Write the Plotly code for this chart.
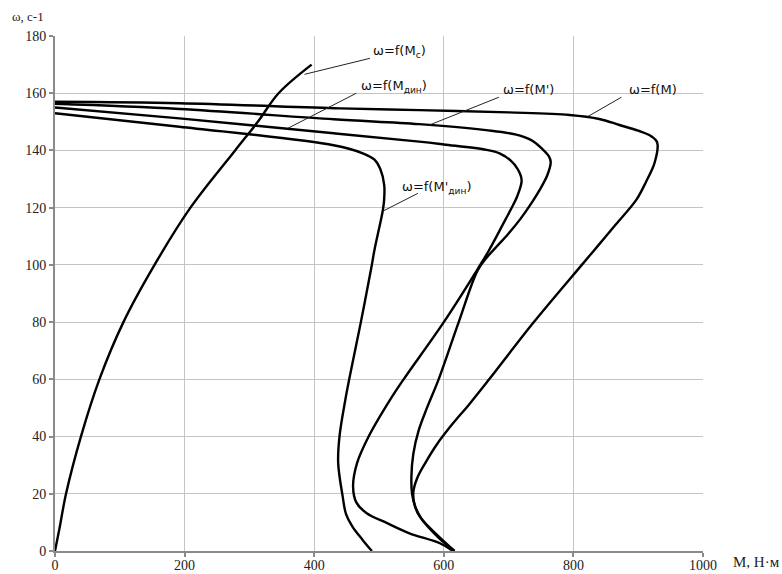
import plotly.graph_objects as go

# ---- data (M in N*m, omega in 1/s) ----
m_M = [0, 192, 440, 562, 700, 794, 840, 871, 900, 917, 928, 930, 925, 912, 897, 865, 839, 813, 739, 670, 640, 612, 590, 572, 559, 553, 555, 563, 593, 616.5]
w_M = [157, 156.5, 154.7, 154.1, 153.3, 152.4, 151, 148.9, 146.9, 145.4, 143.4, 141.9, 135.5, 129, 122.7, 114, 107, 100, 80, 60, 51.5, 44, 37.5, 31, 25.5, 20.5, 16, 12, 4.4, 0]

m_M1 = [0, 192, 430, 562, 665, 710, 735, 752, 762, 765, 760, 750, 735, 718, 700, 682, 666, 652, 623, 592, 574, 561, 553, 550, 551, 556, 565, 588, 616.5]
w_M1 = [156.3, 154.5, 150.9, 149.2, 147.1, 145.6, 143.6, 140.5, 138, 136, 131.5, 127, 121.5, 116, 111, 106.5, 102.5, 98, 80, 60, 50, 42, 34, 26, 20, 15.5, 11.5, 6, 0]

m_Md = [0, 192, 430, 562, 600, 666, 686, 703, 714, 719, 720, 713, 703, 692, 670, 653, 600, 538, 517, 484, 466, 460, 465, 481, 511, 547, 594, 614]
w_Md = [155, 151.2, 146, 143.1, 142.1, 140.2, 139, 136.5, 133.5, 131, 129, 123.8, 119.2, 114.5, 105.2, 98.8, 80, 60, 52.8, 40, 30.6, 22.5, 17, 13.2, 9.9, 6.2, 2.7, 0]

m_Md1 = [0, 192, 430, 475, 493, 502, 508, 508, 506, 493, 488, 472, 454, 448, 439, 437, 444, 449, 459, 475, 489]
w_Md1 = [153, 148.3, 141.8, 139, 136.8, 133.5, 128, 123, 119.2, 105.2, 98.8, 80, 60, 52.8, 40, 30.7, 19, 13, 8.5, 3.8, 0]

m_Mc = [0, 7, 17, 40, 68.5, 105.6, 153.6, 209, 278, 313, 345, 396]
w_Mc = [0, 8, 20, 40, 60, 80, 100, 120, 140, 150, 160, 170]

x_ticks = [0, 200, 400, 600, 800, 1000]
y_ticks = [0, 20, 40, 60, 80, 100, 120, 140, 160, 180]

# curve labels: text, leader start (on curve), leader end, text anchor
label_text = ["ω=f(M<sub>с</sub>)", "ω=f(M<sub>дин</sub>)", "ω=f(M')", "ω=f(M)", "ω=f(M'<sub>дин</sub>)"]
lead_m0 = [385, 359, 578, 822, 507]
lead_w0 = [166.6, 147.7, 148.9, 151.8, 118.9]
lead_m1 = [486, 465, 685, 874, 560]
lead_w1 = [172.2, 160, 158.6, 158.6, 125]
text_m = [488, 469, 689, 882, 532]
text_w = [174.5, 162.3, 161.4, 161.4, 127.1]

fig = go.Figure()
for mx, wy in [(m_Mc, w_Mc), (m_Md1, w_Md1), (m_Md, w_Md), (m_M1, w_M1), (m_M, w_M)]:
    fig.add_trace(go.Scatter(x=mx, y=wy, mode="lines",
                             line=dict(color="black", width=2.4, shape="spline", smoothing=1.0),
                             showlegend=False, hoverinfo="skip"))

for i in range(len(label_text)):
    fig.add_shape(type="line", xref="x", yref="y",
                  x0=lead_m0[i], y0=lead_w0[i], x1=lead_m1[i], y1=lead_w1[i],
                  line=dict(color="#222222", width=1))
    fig.add_annotation(x=text_m[i], y=text_w[i], xref="x", yref="y", text=label_text[i],
                       showarrow=False, xanchor="left", yanchor="middle",
                       font=dict(family="DejaVu Sans", size=13, color="#111111"))

fig.add_annotation(x=0, y=1, xref="paper", yref="paper", text="ω, с-1", showarrow=False,
                   xanchor="left", yanchor="middle", xshift=-45, yshift=20,
                   font=dict(family="Liberation Serif", size=13, color="#222222"))
fig.add_annotation(x=1, y=0, xref="paper", yref="paper", text="M, Н·м", showarrow=False,
                   xanchor="left", yanchor="middle", xshift=28, yshift=-11,
                   font=dict(family="Liberation Serif", size=15, color="#222222"))

axis_common = dict(showgrid=True, gridcolor="#c4c4c4", gridwidth=1, zeroline=False,
                   showline=True, linecolor="#8a8a8a", linewidth=2, automargin=False,
                   ticks="outside", ticklen=4, tickcolor="#8a8a8a", tickwidth=1.5,
                   tickfont=dict(family="Liberation Serif", size=14, color="#222222"))
fig.update_xaxes(range=[0, 1000], tickvals=x_ticks, ticklabelstandoff=-4, **axis_common)
fig.update_yaxes(range=[0, 180], tickvals=y_ticks, **axis_common)

fig.update_layout(width=782, height=574, margin=dict(l=55, r=79, t=36, b=23),
                  plot_bgcolor="white", paper_bgcolor="white")
fig.write_html("out.html", config={"displayModeBar": False},
               post_script="document.body.style.margin='0';document.body.style.overflow='hidden';")
